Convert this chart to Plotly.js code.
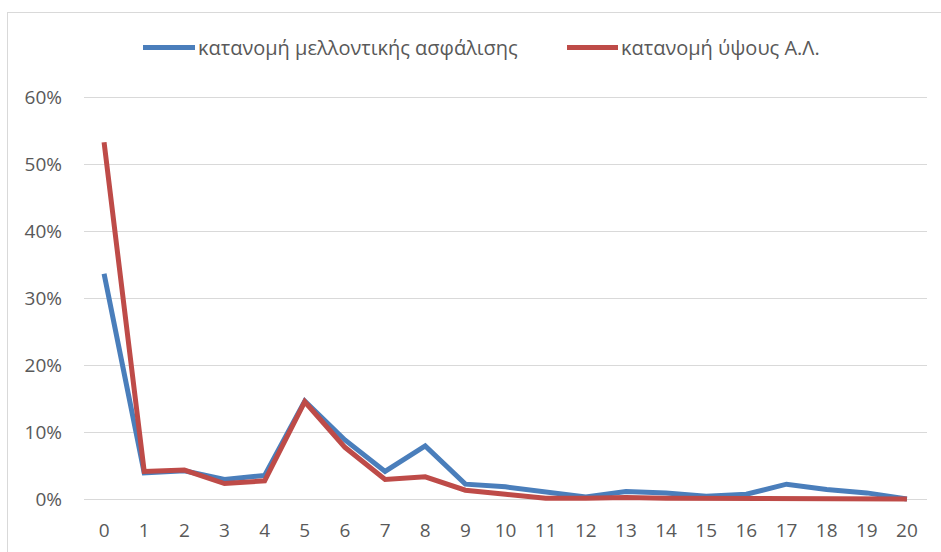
<!DOCTYPE html>
<html>
<head>
<meta charset="utf-8">
<script src="https://cdn.plot.ly/plotly-3.0.1.min.js"></script>
<style>
  html, body { margin: 0; padding: 0; background: #ffffff; }
  #frame { position: absolute; left: 7px; top: 12px; width: 940px; height: 545px; border-left: 1px solid #d9d9d9; border-top: 1px solid #d9d9d9; }
  #chart { position: absolute; left: 0; top: 0; width: 941px; height: 552px; }
</style>
</head>
<body>
<div id="frame"></div>
<div id="chart"></div>
<script>
const categories = ["0","1","2","3","4","5","6","7","8","9","10","11","12","13","14","15","16","17","18","19","20"];
const seriesNames = ["κατανομή μελλοντικής ασφάλισης", "κατανομή ύψους Α.Λ."];
const futureInsurance = [0.337, 0.040, 0.043, 0.030, 0.036, 0.147, 0.089, 0.042, 0.080, 0.023, 0.019, 0.012, 0.004, 0.012, 0.010, 0.005, 0.008, 0.023, 0.015, 0.010, 0.001];
const heightAL = [0.533, 0.042, 0.044, 0.024, 0.028, 0.146, 0.078, 0.030, 0.034, 0.014, 0.008, 0.002, 0.002, 0.003, 0.002, 0.002, 0.001, 0.001, 0.001, 0.001, 0.001];
const yTicks = [0, 0.1, 0.2, 0.3, 0.4, 0.5, 0.6];
const yTickLabels = ["0%", "10%", "20%", "30%", "40%", "50%", "60%"];

const colors = ["#4a7ebb", "#be4b48"];
const font = "Open Sans, sans-serif";
const textColor = "#595959";

// plot area geometry (pixels)
const W = 941, H = 552;
const mL = 84, mR = 14, mT = 83.6, mB = 38.6;
const pw = W - mL - mR, ph = H - mT - mB;
const px = x => (x - mL) / pw;
const py = y => (H - mB - y) / ph;

const traces = [
  { x: categories, y: futureInsurance, name: seriesNames[0], type: "scatter", mode: "lines",
    line: { color: colors[0], width: 5 }, hoverinfo: "x+y" },
  { x: categories, y: heightAL, name: seriesNames[1], type: "scatter", mode: "lines",
    line: { color: colors[1], width: 5 }, hoverinfo: "x+y" }
];

const legendY = 47;
const layout = {
  width: W, height: H,
  margin: { l: mL, r: mR, t: mT, b: mB, pad: 0 },
  paper_bgcolor: "rgba(0,0,0,0)",
  plot_bgcolor: "rgba(0,0,0,0)",
  showlegend: false,
  font: { family: font, color: textColor, size: 19 },
  xaxis: {
    type: "category", range: [-0.5, 20.5], showgrid: false, zeroline: false,
    showline: false, ticks: "", tickfont: { family: font, size: 19, color: textColor },
    ticklabelstandoff: 4
  },
  yaxis: {
    range: [-0.02, 0.62], tickvals: yTicks, ticktext: yTickLabels,
    showgrid: true, gridcolor: "#d9d9d9", gridwidth: 1, zeroline: false, showline: false,
    ticks: "", tickfont: { family: font, size: 19, color: textColor },
    ticklabelstandoff: 21
  },
  shapes: [
    { type: "line", xref: "paper", yref: "paper", x0: px(143), x1: px(195), y0: py(legendY), y1: py(legendY),
      line: { color: colors[0], width: 5 } },
    { type: "line", xref: "paper", yref: "paper", x0: px(567), x1: px(618), y0: py(legendY), y1: py(legendY),
      line: { color: colors[1], width: 5 } }
  ],
  annotations: [
    { xref: "paper", yref: "paper", x: px(196), y: py(legendY), xanchor: "left", yanchor: "middle",
      text: seriesNames[0], showarrow: false, font: { family: font, size: 20, color: textColor } },
    { xref: "paper", yref: "paper", x: px(619), y: py(legendY), xanchor: "left", yanchor: "middle",
      text: seriesNames[1], showarrow: false, font: { family: font, size: 20, color: textColor } }
  ]
};

Plotly.newPlot("chart", traces, layout, { displayModeBar: false, staticPlot: true });
</script>
</body>
</html>
